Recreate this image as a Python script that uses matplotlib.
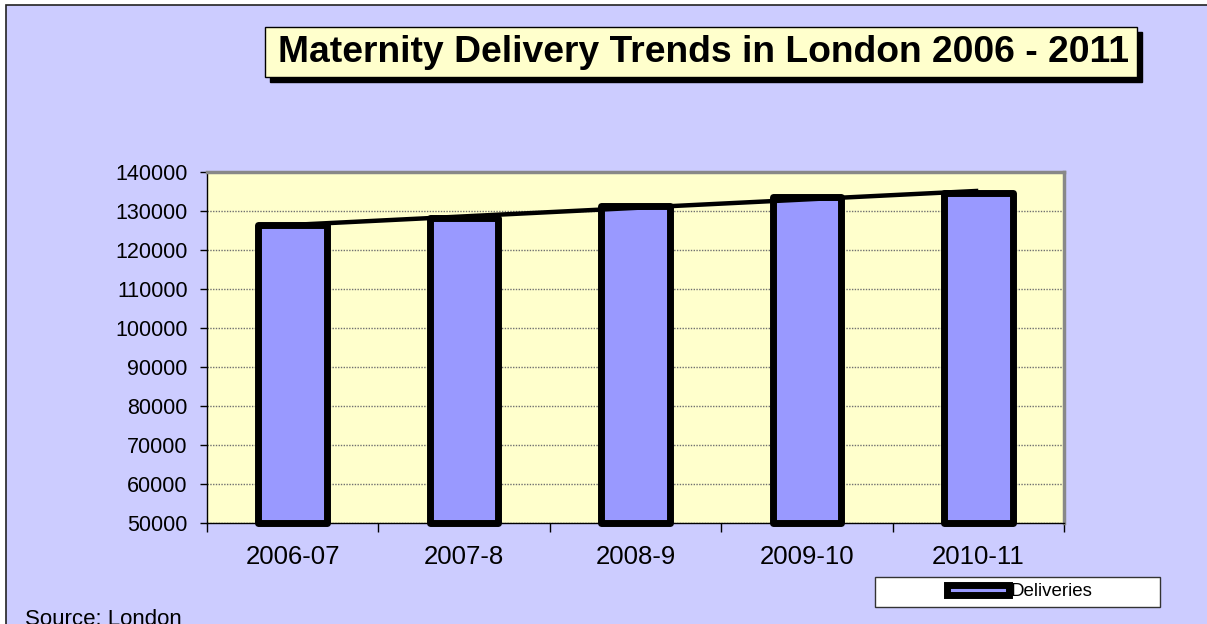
import numpy as np
import matplotlib.pyplot as plt
from matplotlib.patches import Rectangle

plt.rcParams['font.family'] = ['Liberation Sans', 'DejaVu Sans']

# data
years = ['2006-07', '2007-8', '2008-9', '2009-10', '2010-11']
deliveries = [126300, 128300, 131200, 133700, 134500]
y_ticks = list(range(50000, 140001, 10000))
title = 'Maternity Delivery Trends in London 2006 - 2011'
source = 'Source: London'

W, H = 1207, 624
fig = plt.figure(figsize=(W / 100, H / 100), dpi=100)
fig.patch.set_facecolor('white')

def fx(px):
    return px / W

def fy(py):
    return 1 - py / H

# chart area background
fig.patches.append(Rectangle((fx(6), -0.1), 1.1, fy(5) + 0.1, transform=fig.transFigure,
                             facecolor='#CCCCFF', edgecolor='#222222', lw=1.2, zorder=0))

# title box with shadow
bx0, bx1, by0, by1 = 265, 1137, 27, 77
fig.patches.append(Rectangle((fx(bx0 + 5), fy(by1 + 5)), fx(bx1 - bx0), (by1 - by0) / H,
                             transform=fig.transFigure, facecolor='black', edgecolor='black', zorder=1))
fig.patches.append(Rectangle((fx(bx0), fy(by1)), fx(bx1 - bx0), (by1 - by0) / H,
                             transform=fig.transFigure, facecolor='#FFFFCC', edgecolor='black',
                             lw=1, zorder=2))
fig.text(fx((bx0 + bx1) / 2 + 2), fy((by0 + by1) / 2 + 1), title, ha='center', va='center',
         fontsize=26.8, fontweight='bold', zorder=3)

# plot area
left, right, top, bottom = 207, 1064, 172, 523
ax = fig.add_axes([fx(left), fy(bottom), fx(right - left), (bottom - top) / H])
ax.set_zorder(5)
ax.set_facecolor('#FFFFCC')

x = np.arange(len(years))
ax.bar(x, [v - 50000 for v in deliveries], bottom=50000, width=0.4, color='#9999FF',
       edgecolor='black', linewidth=5, joinstyle='round', clip_on=False, zorder=3)

# linear trendline
k, b = np.polyfit(x, deliveries, 1)
tx = np.array([-0.2, 4.0])
ax.plot(tx, k * tx + b, color='black', lw=3.2, zorder=4, solid_capstyle='butt')

ax.set_xlim(-0.5, len(years) - 0.5)
ax.set_ylim(50000, 140000)
ax.set_yticks(y_ticks)
ax.set_yticklabels([str(t) for t in y_ticks], fontsize=15.5)
ax.yaxis.grid(True, color='#707070', linestyle=(0, (1, 1)), lw=1)
ax.set_axisbelow(True)

ax.set_xticks(np.arange(-0.5, len(years), 1))
ax.set_xticklabels([])
ax.set_xticks(x, minor=True)
ax.set_xticklabels(years, minor=True, fontsize=18.5)
ax.tick_params(axis='x', which='major', direction='out', length=6.5, width=1, color='black')
ax.tick_params(axis='x', which='minor', length=0, pad=16)
ax.tick_params(axis='y', direction='out', length=5, width=1, pad=9)

for s in ['top', 'right']:
    ax.spines[s].set_color('#888888')
    ax.spines[s].set_linewidth(2.5)
for s in ['left', 'bottom']:
    ax.spines[s].set_color('black')
    ax.spines[s].set_linewidth(1)

# legend box
lx0, lx1, ly0, ly1 = 875, 1160, 577, 607
fig.patches.append(Rectangle((fx(lx0), fy(ly1)), fx(lx1 - lx0), (ly1 - ly0) / H,
                             transform=fig.transFigure, facecolor='white', edgecolor='#333333',
                             lw=1, zorder=2))
handle = Rectangle((0, 0), 1, 1, facecolor='#9999FF', edgecolor='black', lw=5, joinstyle='round')
leg = fig.legend([handle], ['Deliveries'], loc='center',
                 bbox_to_anchor=(fx((lx0 + lx1) / 2 + 2), fy((ly0 + ly1) / 2)),
                 frameon=False, fontsize=13.5, handlelength=3.3, handleheight=0.5,
                 handletextpad=0.1, borderpad=0)
leg.set_zorder(6)

fig.text(fx(25), fy(625), source, ha='left', va='baseline', fontsize=16)

fig.savefig('out.png', dpi=100)
